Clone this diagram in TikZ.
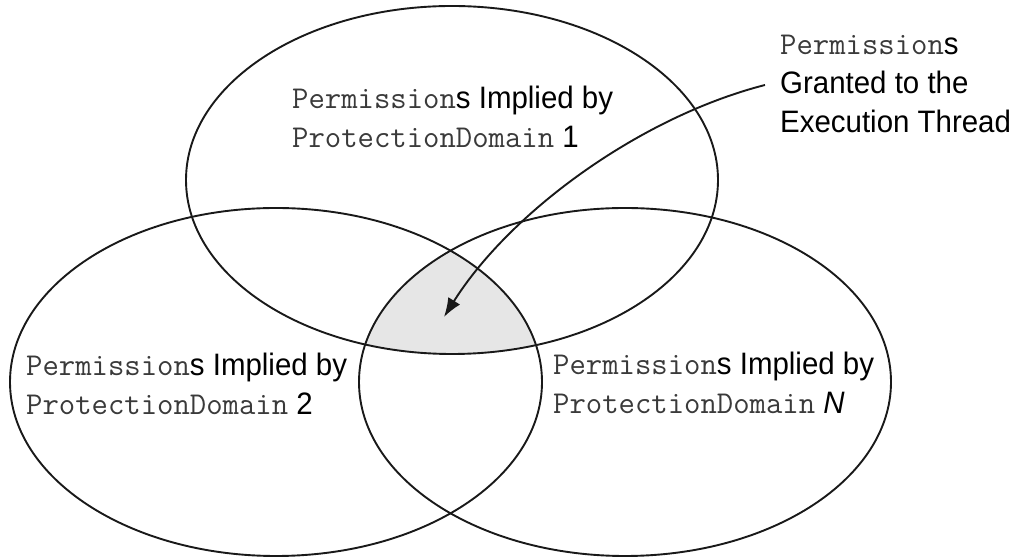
\documentclass[tikz,border=0pt]{standalone}
\usepackage{fontspec}
\usetikzlibrary{arrows.meta}
\newfontfamily\sansf[FakeStretch=0.95]{Liberation Sans}
\definecolor{shadegray}{HTML}{E6E6E6}
\definecolor{monogray}{HTML}{3A3A3A}
\newcommand{\mt}[1]{{\ttfamily\fontsize{31.8}{39}\selectfont\color{monogray}#1}}
\newcommand{\st}[1]{{\sansf\fontsize{31}{39}\selectfont #1}}
\begin{document}
\begin{tikzpicture}[x=1pt,y=1pt,
  venn/.style={line width=1.9pt, draw=black!90},
  lbl/.style={anchor=base west, inner sep=0pt, align=left,
    font=\fontsize{28}{39}\selectfont},
  callout/.style={line width=1.9pt, draw=black!90, -{Latex[length=19pt,width=14pt]}}]
\useasboundingbox (0,0) rectangle (1013,557);
% shaded intersection
\begin{scope}
  \clip (452,377) ellipse [x radius=266, y radius=174];
  \clip (276,175) ellipse [x radius=266, y radius=174];
  \fill[shadegray] (625,175) ellipse [x radius=266, y radius=174];
\end{scope}
\draw[venn] (452,377) ellipse [x radius=266, y radius=174];
\draw[venn] (276,175) ellipse [x radius=266, y radius=174];
\draw[venn] (625,175) ellipse [x radius=266, y radius=174];
% labels (anchor on the last line's baseline)
\node[lbl] (pd1) at (292,409) {\mt{Permission}\st{s Implied by}\\\mt{ProtectionDomain}\st{ 1}};
\node[lbl] (pd2) at (26,142) {\mt{Permission}\st{s Implied by}\\\mt{ProtectionDomain}\st{ 2}};
\node[lbl] (pdn) at (553,143) {\mt{Permission}\st{s Implied by}\\\mt{ProtectionDomain}\st{ \itshape N}};
\node[lbl] (granted) at (780,424) {\mt{Permission}\st{s}\\\st{Granted to the}\\\st{Execution Thread}};
% arrow
\coordinate (astart) at (765,472);
\coordinate (aend) at (444,240);
\draw[callout] (astart) .. controls (640,440) and (510,345) .. (aend);
\end{tikzpicture}
\end{document}
